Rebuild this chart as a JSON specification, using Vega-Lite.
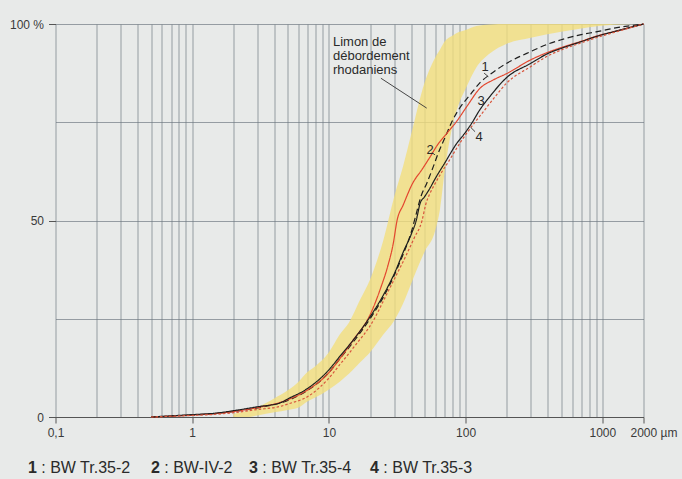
{
  "$schema": "https://vega.github.io/schema/vega-lite/v6.json",
  "width": 588,
  "height": 393,
  "autosize": {"type": "none"},
  "padding": {"left": 55.5, "top": 24, "right": 38.5, "bottom": 62},
  "background": "#e8eae9",
  "config": {
    "view": {"stroke": null},
    "font": "Liberation Sans",
    "axis": {"labelFont": "Liberation Sans", "labelColor": "#3a3a3a", "labelFontSize": 12}
  },
  "datasets": {
    "band": [
      {"size": 2, "pct": 0.8, "pct2": 0},
      {"size": 2.5, "pct": 1.5, "pct2": 0},
      {"size": 3, "pct": 2.5, "pct2": 0.4},
      {"size": 4, "pct": 4.8, "pct2": 1.2},
      {"size": 5, "pct": 6.8, "pct2": 1.8},
      {"size": 6, "pct": 9, "pct2": 2.4},
      {"size": 7, "pct": 11.5, "pct2": 4},
      {"size": 8, "pct": 13, "pct2": 5},
      {"size": 10, "pct": 16.5, "pct2": 7},
      {"size": 12, "pct": 21, "pct2": 9},
      {"size": 14, "pct": 24, "pct2": 11},
      {"size": 17, "pct": 30, "pct2": 14},
      {"size": 20, "pct": 35, "pct2": 16.5},
      {"size": 25, "pct": 45, "pct2": 21},
      {"size": 30, "pct": 56, "pct2": 24.5},
      {"size": 35, "pct": 64, "pct2": 29},
      {"size": 40, "pct": 72, "pct2": 34},
      {"size": 50, "pct": 85, "pct2": 42},
      {"size": 60, "pct": 91.5, "pct2": 47.5},
      {"size": 65, "pct": 93.5, "pct2": 53},
      {"size": 70, "pct": 95.5, "pct2": 62},
      {"size": 80, "pct": 97, "pct2": 74},
      {"size": 90, "pct": 98, "pct2": 80},
      {"size": 100, "pct": 98.5, "pct2": 83.5},
      {"size": 120, "pct": 99.5, "pct2": 89},
      {"size": 150, "pct": 99.9, "pct2": 92.5},
      {"size": 200, "pct": 100, "pct2": 95},
      {"size": 300, "pct": 100, "pct2": 96.5},
      {"size": 500, "pct": 100, "pct2": 98},
      {"size": 800, "pct": 100, "pct2": 99.2},
      {"size": 1200, "pct": 100, "pct2": 99.8},
      {"size": 2000, "pct": 100, "pct2": 100}
    ],
    "curves": [
      {"curve": "1", "size": 0.5, "pct": 0},
      {"curve": "1", "size": 0.7, "pct": 0.2},
      {"curve": "1", "size": 1, "pct": 0.5},
      {"curve": "1", "size": 1.5, "pct": 0.9},
      {"curve": "1", "size": 2, "pct": 1.4},
      {"curve": "1", "size": 3, "pct": 2.3},
      {"curve": "1", "size": 5, "pct": 4.2},
      {"curve": "1", "size": 7, "pct": 6.8},
      {"curve": "1", "size": 10, "pct": 11.3},
      {"curve": "1", "size": 12, "pct": 14.8},
      {"curve": "1", "size": 15, "pct": 19},
      {"curve": "1", "size": 20, "pct": 25},
      {"curve": "1", "size": 25, "pct": 30.5},
      {"curve": "1", "size": 30, "pct": 36},
      {"curve": "1", "size": 35, "pct": 41.5},
      {"curve": "1", "size": 40, "pct": 47},
      {"curve": "1", "size": 43, "pct": 51},
      {"curve": "1", "size": 47, "pct": 56},
      {"curve": "1", "size": 52, "pct": 59.5},
      {"curve": "1", "size": 58, "pct": 63.7},
      {"curve": "1", "size": 63, "pct": 67.1},
      {"curve": "1", "size": 71, "pct": 71.3},
      {"curve": "1", "size": 79, "pct": 75},
      {"curve": "1", "size": 90, "pct": 78.5},
      {"curve": "1", "size": 108, "pct": 82},
      {"curve": "1", "size": 127, "pct": 85},
      {"curve": "1", "size": 160, "pct": 87.8},
      {"curve": "1", "size": 200, "pct": 90},
      {"curve": "1", "size": 300, "pct": 93},
      {"curve": "1", "size": 400, "pct": 94.9},
      {"curve": "1", "size": 500, "pct": 96},
      {"curve": "1", "size": 700, "pct": 97.3},
      {"curve": "1", "size": 900, "pct": 98},
      {"curve": "1", "size": 1200, "pct": 98.9},
      {"curve": "1", "size": 2000, "pct": 100},
      {"curve": "2", "size": 0.5, "pct": 0},
      {"curve": "2", "size": 0.7, "pct": 0.2},
      {"curve": "2", "size": 1, "pct": 0.5},
      {"curve": "2", "size": 1.5, "pct": 0.9},
      {"curve": "2", "size": 2, "pct": 1.4},
      {"curve": "2", "size": 3, "pct": 2.4},
      {"curve": "2", "size": 5, "pct": 4.4},
      {"curve": "2", "size": 7, "pct": 6.9},
      {"curve": "2", "size": 10, "pct": 11.3},
      {"curve": "2", "size": 12, "pct": 14.8},
      {"curve": "2", "size": 15, "pct": 19.5},
      {"curve": "2", "size": 20, "pct": 26},
      {"curve": "2", "size": 24, "pct": 33},
      {"curve": "2", "size": 27, "pct": 38.5},
      {"curve": "2", "size": 29.5, "pct": 44},
      {"curve": "2", "size": 31.5, "pct": 50},
      {"curve": "2", "size": 35, "pct": 54},
      {"curve": "2", "size": 41, "pct": 59.5},
      {"curve": "2", "size": 48, "pct": 63},
      {"curve": "2", "size": 55, "pct": 66.2},
      {"curve": "2", "size": 63, "pct": 69.5},
      {"curve": "2", "size": 73, "pct": 72.2},
      {"curve": "2", "size": 85, "pct": 75},
      {"curve": "2", "size": 102, "pct": 79},
      {"curve": "2", "size": 127, "pct": 83.6},
      {"curve": "2", "size": 160, "pct": 85.8},
      {"curve": "2", "size": 200, "pct": 87.4},
      {"curve": "2", "size": 300, "pct": 90.9},
      {"curve": "2", "size": 400, "pct": 92.8},
      {"curve": "2", "size": 500, "pct": 94},
      {"curve": "2", "size": 700, "pct": 95.6},
      {"curve": "2", "size": 900, "pct": 96.9},
      {"curve": "2", "size": 1200, "pct": 98},
      {"curve": "2", "size": 2000, "pct": 100},
      {"curve": "3", "size": 0.5, "pct": 0},
      {"curve": "3", "size": 0.7, "pct": 0.3},
      {"curve": "3", "size": 1, "pct": 0.6},
      {"curve": "3", "size": 1.5, "pct": 1},
      {"curve": "3", "size": 2, "pct": 1.6},
      {"curve": "3", "size": 3, "pct": 2.6},
      {"curve": "3", "size": 4.4, "pct": 3.6},
      {"curve": "3", "size": 5, "pct": 4.6},
      {"curve": "3", "size": 7, "pct": 7.3},
      {"curve": "3", "size": 10, "pct": 12},
      {"curve": "3", "size": 12, "pct": 15.4},
      {"curve": "3", "size": 15, "pct": 19.5},
      {"curve": "3", "size": 20, "pct": 25.5},
      {"curve": "3", "size": 25, "pct": 31},
      {"curve": "3", "size": 31, "pct": 37.5},
      {"curve": "3", "size": 35, "pct": 42},
      {"curve": "3", "size": 40, "pct": 46.5},
      {"curve": "3", "size": 43.5, "pct": 50},
      {"curve": "3", "size": 46.5, "pct": 54.4},
      {"curve": "3", "size": 50, "pct": 56},
      {"curve": "3", "size": 55, "pct": 58.3},
      {"curve": "3", "size": 60, "pct": 60.7},
      {"curve": "3", "size": 70, "pct": 64.5},
      {"curve": "3", "size": 86, "pct": 69.6},
      {"curve": "3", "size": 100, "pct": 72.5},
      {"curve": "3", "size": 112, "pct": 75},
      {"curve": "3", "size": 125, "pct": 77.8},
      {"curve": "3", "size": 150, "pct": 81.5},
      {"curve": "3", "size": 200, "pct": 86.4},
      {"curve": "3", "size": 300, "pct": 90},
      {"curve": "3", "size": 400, "pct": 92.5},
      {"curve": "3", "size": 500, "pct": 93.8},
      {"curve": "3", "size": 700, "pct": 95.5},
      {"curve": "3", "size": 900, "pct": 96.8},
      {"curve": "3", "size": 1200, "pct": 98},
      {"curve": "3", "size": 2000, "pct": 100},
      {"curve": "4", "size": 0.5, "pct": 0},
      {"curve": "4", "size": 0.7, "pct": 0.2},
      {"curve": "4", "size": 1, "pct": 0.4},
      {"curve": "4", "size": 1.5, "pct": 0.7},
      {"curve": "4", "size": 2, "pct": 1.1},
      {"curve": "4", "size": 3, "pct": 1.9},
      {"curve": "4", "size": 4.4, "pct": 2.7},
      {"curve": "4", "size": 5, "pct": 3.3},
      {"curve": "4", "size": 7, "pct": 5.2},
      {"curve": "4", "size": 10, "pct": 9.9},
      {"curve": "4", "size": 12, "pct": 13.3},
      {"curve": "4", "size": 15, "pct": 17.5},
      {"curve": "4", "size": 21.5, "pct": 25},
      {"curve": "4", "size": 25, "pct": 29.5},
      {"curve": "4", "size": 30, "pct": 35},
      {"curve": "4", "size": 36, "pct": 40.5},
      {"curve": "4", "size": 42, "pct": 45.5},
      {"curve": "4", "size": 48, "pct": 50},
      {"curve": "4", "size": 51, "pct": 54},
      {"curve": "4", "size": 55, "pct": 57},
      {"curve": "4", "size": 60, "pct": 59.5},
      {"curve": "4", "size": 66, "pct": 62},
      {"curve": "4", "size": 75, "pct": 65},
      {"curve": "4", "size": 92, "pct": 70},
      {"curve": "4", "size": 117, "pct": 75},
      {"curve": "4", "size": 130, "pct": 77},
      {"curve": "4", "size": 160, "pct": 81},
      {"curve": "4", "size": 200, "pct": 85},
      {"curve": "4", "size": 300, "pct": 89.2},
      {"curve": "4", "size": 400, "pct": 91.9},
      {"curve": "4", "size": 500, "pct": 93.4},
      {"curve": "4", "size": 700, "pct": 95.2},
      {"curve": "4", "size": 900, "pct": 96.5},
      {"curve": "4", "size": 1200, "pct": 97.8},
      {"curve": "4", "size": 2000, "pct": 100}
    ],
    "leaders": [
      {"size": 24, "pct": 86.2, "size2": 51.9, "pct2": 78.6},
      {"size": 136.5, "pct": 87.5, "size2": 146.7, "pct2": 86.6},
      {"size": 56.5, "pct": 67.3, "size2": 59.7, "pct2": 66.7},
      {"size": 108.9, "pct": 73.7, "size2": 117.2, "pct2": 72.6}
    ],
    "numbers": [
      {"size": 138.7, "pct": 89.1, "text": "1"},
      {"size": 55, "pct": 68, "text": "2"},
      {"size": 129.7, "pct": 80.4, "text": "3"},
      {"size": 125.4, "pct": 71.3, "text": "4"}
    ],
    "note": [
      {"size": 10.7, "pct": 96.9, "text": "Limon de\ndébordement\nrhodaniens"}
    ],
    "key": [
      {"size": 0.0629, "pct": -12.9, "num": "1", "rest": ": BW Tr.35-2"},
      {"size": 0.4996, "pct": -12.9, "num": "2", "rest": ": BW-IV-2"},
      {"size": 2.603, "pct": -12.9, "num": "3", "rest": ": BW Tr.35-4"},
      {"size": 19.98, "pct": -12.9, "num": "4", "rest": ": BW Tr.35-3"}
    ]
  },
  "encoding": {
    "x": {
      "field": "size",
      "type": "quantitative",
      "title": null,
      "scale": {"type": "log", "domain": [0.1, 2000], "nice": false},
      "axis": {
        "values": [0.1, 0.2, 0.3, 0.4, 0.5, 0.6, 0.7, 0.8, 0.9, 1, 2, 3, 4, 5, 6, 7, 8, 9, 10, 20, 30, 40, 50, 60, 70, 80, 90, 100, 200, 300, 400, 500, 600, 700, 800, 900, 1000, 2000],
        "grid": true,
        "gridColor": "#6c7680",
        "gridWidth": 0.8,
        "gridOpacity": 0.85,
        "domainColor": "#555555",
        "tickColor": "#555555",
        "tickSize": 6,
        "labelPadding": 4,
        "labelFlush": false,
        "labelOverlap": false,
        "labelBound": false,
        "labelExpr": "datum.value == 0.1 ? '0,1' : datum.value == 2000 ? '2000 µm' : indexof([1, 10, 100, 1000], datum.value) >= 0 ? '' + datum.value : ''",
        "labelAlign": {"condition": {"test": "datum.value == 2000", "value": "left"}, "value": "center"},
        "labelOffset": {"condition": {"test": "datum.value == 2000", "value": -13.5}, "value": 0},
        "tickOpacity": {"condition": {"test": "indexof([0.1, 1, 10, 100, 1000, 2000], datum.value) < 0", "value": 0}, "value": 1}
      }
    },
    "y": {
      "field": "pct",
      "type": "quantitative",
      "title": null,
      "scale": {"domain": [0, 100], "nice": false},
      "axis": {
        "values": [0, 25, 50, 75, 100],
        "grid": true,
        "gridColor": "#6c7680",
        "gridWidth": 0.8,
        "gridOpacity": 0.85,
        "domain": false,
        "tickColor": "#555555",
        "tickSize": 7,
        "labelPadding": 5,
        "labelExpr": "datum.value == 100 ? '100 %' : (datum.value == 50 || datum.value == 0) ? '' + datum.value : ''",
        "tickOpacity": {"condition": {"test": "datum.value == 25 || datum.value == 75", "value": 0}, "value": 1}
      }
    }
  },
  "layer": [
    {
      "data": {"name": "band"},
      "mark": {"type": "area", "color": "#f3de7c", "opacity": 0.8, "interpolate": "monotone"},
      "encoding": {"y2": {"field": "pct2"}}
    },
    {
      "data": {"name": "curves"},
      "mark": {"type": "line", "interpolate": "monotone", "strokeWidth": 1.2},
      "encoding": {
        "color": {"field": "curve", "type": "nominal", "legend": null,
          "scale": {"domain": ["1", "2", "3", "4"], "range": ["#1e1e1e", "#e3472f", "#1e1e1e", "#d8553c"]}},
        "strokeDash": {"field": "curve", "type": "nominal", "legend": null,
          "scale": {"domain": ["1", "2", "3", "4"], "range": [[6, 3.5], [1, 0], [1, 0], [2.5, 2]]}}
      }
    },
    {
      "data": {"name": "leaders"},
      "mark": {"type": "rule", "color": "#333333", "strokeWidth": 0.9},
      "encoding": {"x2": {"field": "size2"}, "y2": {"field": "pct2"}}
    },
    {
      "data": {"name": "numbers"},
      "mark": {"type": "text", "fontSize": 13, "color": "#2a2a2a", "align": "center", "baseline": "middle"},
      "encoding": {"text": {"field": "text"}}
    },
    {
      "data": {"name": "note"},
      "mark": {"type": "text", "fontSize": 13, "lineHeight": 14, "lineBreak": "\n", "color": "#2a2a2a", "align": "left", "baseline": "top"},
      "encoding": {"text": {"field": "text"}}
    },
    {
      "data": {"name": "key"},
      "mark": {"type": "text", "fontSize": 16, "fontWeight": "bold", "color": "#2a2a2a", "align": "left", "baseline": "middle"},
      "encoding": {"text": {"field": "num"}}
    },
    {
      "data": {"name": "key"},
      "mark": {"type": "text", "fontSize": 16, "color": "#2a2a2a", "align": "left", "baseline": "middle", "dx": 13.3},
      "encoding": {"text": {"field": "rest"}}
    }
  ]
}
